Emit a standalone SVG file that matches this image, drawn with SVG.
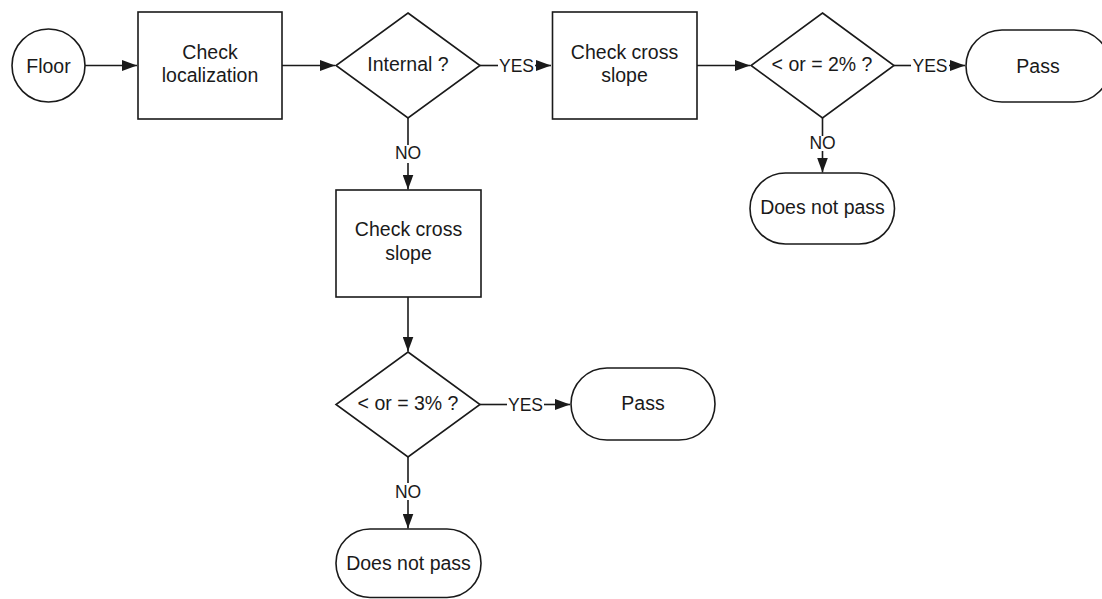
<svg xmlns="http://www.w3.org/2000/svg" width="1102" height="599" viewBox="0 0 1102 599">
<defs>
<style>
.n{fill:#fff;stroke:#1a1a1a;stroke-width:1.6}
.c{fill:none;stroke:#1a1a1a;stroke-width:1.6}
.t{font-family:"Liberation Sans",Arial,sans-serif;font-size:19.5px;fill:#1a1a1a;text-anchor:middle}
.l{font-family:"Liberation Sans",Arial,sans-serif;font-size:17.5px;fill:#1a1a1a;text-anchor:middle}
</style>
<marker id="ah" markerWidth="16" markerHeight="11" refX="15" refY="5.5" orient="auto" markerUnits="userSpaceOnUse">
<path d="M0,0 L15,5.5 L0,11 Z" fill="#1a1a1a"/>
</marker>
</defs>
<rect width="1102" height="599" fill="#fff"/>
<g id="connectors">
<line class="c" x1="85" y1="65.5" x2="137" y2="65.5" marker-end="url(#ah)"/>
<line class="c" x1="282" y1="65.5" x2="335" y2="65.5" marker-end="url(#ah)"/>
<line class="c" x1="480" y1="65.5" x2="498" y2="65.5"/>
<line class="c" x1="535" y1="65.5" x2="551" y2="65.5" marker-end="url(#ah)"/>
<text class="l" x="516.5" y="71.8">YES</text>
<line class="c" x1="697" y1="65.5" x2="750" y2="65.5" marker-end="url(#ah)"/>
<line class="c" x1="894" y1="65.5" x2="911" y2="65.5"/>
<line class="c" x1="949" y1="65.5" x2="965" y2="65.5" marker-end="url(#ah)"/>
<text class="l" x="930" y="71.8">YES</text>
<line class="c" x1="822.5" y1="118" x2="822.5" y2="136"/>
<line class="c" x1="822.5" y1="151" x2="822.5" y2="172.5" marker-end="url(#ah)"/>
<text class="l" x="822.5" y="149.3">NO</text>
<line class="c" x1="408" y1="118" x2="408" y2="145"/>
<line class="c" x1="408" y1="163" x2="408" y2="189.5" marker-end="url(#ah)"/>
<text class="l" x="408" y="159.3">NO</text>
<line class="c" x1="408" y1="297" x2="408" y2="351.5" marker-end="url(#ah)"/>
<line class="c" x1="480" y1="404.5" x2="507" y2="404.5"/>
<line class="c" x1="544" y1="404.5" x2="570" y2="404.5" marker-end="url(#ah)"/>
<text class="l" x="525.5" y="410.8">YES</text>
<line class="c" x1="408" y1="457" x2="408" y2="483"/>
<line class="c" x1="408" y1="500" x2="408" y2="528.5" marker-end="url(#ah)"/>
<text class="l" x="408" y="497.8">NO</text>
</g>
<g id="floor">
<circle class="n" cx="48.5" cy="65.5" r="36.5"/>
<text class="t" x="48.5" y="72.5">Floor</text>
</g>
<g id="check-localization">
<rect class="n" x="138" y="12" width="144" height="107"/>
<text class="t" x="210" y="59">Check</text>
<text class="t" x="210" y="82">localization</text>
</g>
<g id="internal">
<polygon class="n" points="408,13 480,65.5 408,118 336,65.5"/>
<text class="t" x="408" y="70.5">Internal ?</text>
</g>
<g id="check-cross-slope-1">
<rect class="n" x="552.5" y="12" width="144.5" height="107"/>
<text class="t" x="624.5" y="59">Check cross</text>
<text class="t" x="624.5" y="82">slope</text>
</g>
<g id="slope-2">
<polygon class="n" points="822.5,13 894,65.5 822.5,118 751,65.5"/>
<text class="t" x="822" y="71">&lt; or = 2% ?</text>
</g>
<g id="pass-1">
<rect class="n" x="966" y="30" width="144" height="72" rx="36" ry="36"/>
<text class="t" x="1038" y="73">Pass</text>
</g>
<g id="does-not-pass-1">
<rect class="n" x="750" y="173" width="144.5" height="71" rx="35.5" ry="35.5"/>
<text class="t" x="822.5" y="214">Does not pass</text>
</g>
<g id="check-cross-slope-2">
<rect class="n" x="336" y="190" width="145" height="107"/>
<text class="t" x="408.5" y="236">Check cross</text>
<text class="t" x="408.5" y="259.5">slope</text>
</g>
<g id="slope-3">
<polygon class="n" points="408,352 480,404.5 408,457 336,404.5"/>
<text class="t" x="408" y="410">&lt; or = 3% ?</text>
</g>
<g id="pass-2">
<rect class="n" x="571" y="368" width="144" height="72" rx="36" ry="36"/>
<text class="t" x="643" y="410">Pass</text>
</g>
<g id="does-not-pass-2">
<rect class="n" x="336" y="529" width="145" height="68.5" rx="34" ry="34"/>
<text class="t" x="408.5" y="570">Does not pass</text>
</g>
</svg>
